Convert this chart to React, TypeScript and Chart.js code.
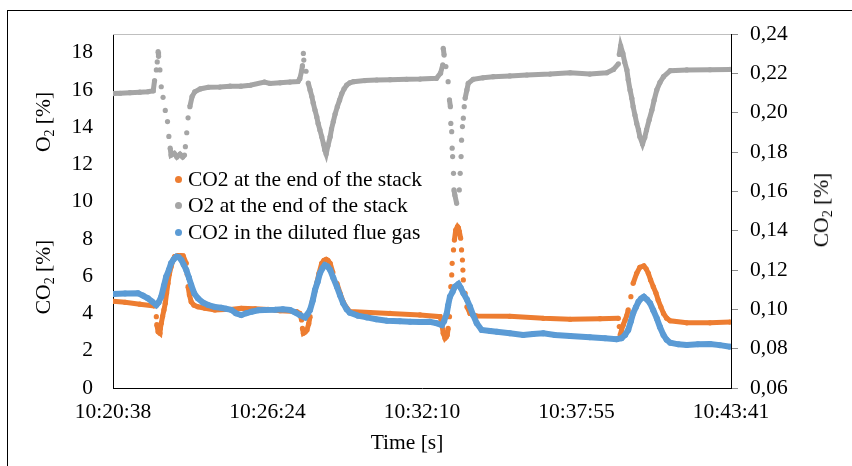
import React, { useEffect, useRef } from 'react';
import { Chart, registerables } from 'chart.js';

Chart.register(...registerables);

// ---------- data (time in seconds after 10:20:38) ----------
const X_TICK_LABELS = ['10:20:38', '10:26:24', '10:32:10', '10:37:55', '10:43:41'];
const X_MAX_SECONDS = 1383;
const LEFT_TICKS = [0, 2, 4, 6, 8, 10, 12, 14, 16, 18];
const RIGHT_TICKS = [0.06, 0.08, 0.1, 0.12, 0.14, 0.16, 0.18, 0.2, 0.22, 0.24];
const SERIES_NAMES = ['CO2 at the end of the stack', 'O2 at the end of the stack', 'CO2 in the diluted flue gas'];

// O2 at the end of the stack [%] (left axis)
const O2_END_STACK: [number, number][] = [
  [0, 15.8], [16, 15.82], [38, 15.85], [60, 15.88], [78, 15.9], [90, 15.95], [93, 16.5], [97, 17.07], [99, 17.5],
  [101, 18.05], [102, 17.8], [105, 17.07], [108, 16.17], [112, 15.6], [117, 14.9], [122, 14.3], [125, 13.5],
  [128, 12.87], [130, 12.5], [137, 12.6], [143, 12.4], [150, 12.55], [156, 12.4], [160, 12.5], [162, 12.95],
  [165, 13.7], [168, 14.5], [172, 15.1], [177, 15.64], [183, 15.9], [195, 16.05], [213, 16.14], [239, 16.15],
  [262, 16.2], [286, 16.2], [307, 16.25], [339, 16.42], [351, 16.35], [374, 16.38], [396, 16.42], [414, 16.45],
  [418, 16.6], [422, 17.0], [424, 17.3], [426, 17.96], [427, 17.6], [432, 17.0], [437, 16.36], [441, 16.0],
  [445, 15.64], [448, 15.3], [452, 14.92], [456, 14.55], [459, 14.2], [463, 13.85], [467, 13.49], [471, 13.1],
  [474, 12.77], [477, 12.56], [481, 13.0], [486, 13.49], [489, 13.9], [493, 14.3], [497, 14.7], [502, 15.1],
  [507, 15.45], [512, 15.8], [517, 16.05], [523, 16.26], [530, 16.38], [538, 16.44], [564, 16.5], [590, 16.53],
  [620, 16.55], [657, 16.57], [687, 16.58], [724, 16.62], [733, 16.9], [738, 17.34], [739, 18.23], [741, 17.87],
  [745, 17.25], [750, 16.44], [753, 15.46], [755, 15.1], [756, 14.2], [758, 13.76], [759, 12.87], [760, 12.42],
  [762, 11.52], [763, 10.63], [765, 10.36], [769, 9.91], [775, 10.63], [777, 11.52], [779, 12.42], [780, 13.3],
  [782, 14.03], [784, 14.48], [786, 15.1], [788, 15.55], [792, 16.0], [795, 16.35], [806, 16.57], [828, 16.65],
  [851, 16.71], [888, 16.75], [926, 16.8], [978, 16.85], [1023, 16.92], [1067, 16.85], [1105, 16.92], [1120, 17.1],
  [1131, 17.4], [1133, 17.9], [1136, 18.36], [1141, 17.96], [1145, 17.5], [1150, 17.07], [1153, 16.55], [1157, 16.0],
  [1161, 15.55], [1164, 15.1], [1168, 14.65], [1172, 14.2], [1176, 13.85], [1179, 13.49], [1185, 13.1], [1190, 13.45],
  [1194, 13.85], [1200, 14.4], [1206, 14.92], [1211, 15.45], [1217, 16.0], [1224, 16.4], [1232, 16.71], [1247, 17.03],
  [1284, 17.07], [1336, 17.08], [1381, 17.1],
];

// CO2 at the end of the stack [%] (left axis)
const CO2_END_STACK: [number, number][] = [
  [0, 4.65], [27, 4.6], [60, 4.5], [93, 4.4], [97, 3.83], [98, 3.4], [101, 3.02], [105, 2.94], [106, 3.2],
  [108, 3.47], [111, 3.85], [114, 4.19], [117, 4.55], [120, 5.1], [123, 5.62], [126, 6.1], [130, 6.51], [134, 6.85],
  [138, 7.05], [145, 7.1], [152, 7.1], [157, 7.09], [164, 6.69], [166, 6.1], [168, 5.44], [171, 5.0], [175, 4.63],
  [181, 4.45], [190, 4.36], [206, 4.28], [228, 4.19], [262, 4.22], [287, 4.28], [318, 4.25], [347, 4.22],
  [374, 4.15], [411, 4.1], [418, 4.0], [422, 3.65], [424, 3.2], [426, 2.94], [430, 3.0], [434, 3.11], [438, 3.45],
  [441, 3.83], [445, 4.55], [451, 5.1], [456, 5.62], [461, 6.15], [467, 6.69], [472, 6.85], [477, 6.91], [481, 6.85],
  [486, 6.69], [492, 6.2], [501, 5.62], [508, 5.1], [515, 4.63], [523, 4.3], [530, 4.1], [575, 4.05], [620, 4.0],
  [687, 3.92], [732, 3.83], [736, 3.4], [739, 2.94], [743, 2.67], [746, 2.75], [748, 2.85], [750, 3.2], [753, 3.83],
  [754, 4.9], [756, 5.44], [758, 6.07], [759, 6.69], [762, 7.41], [764, 7.94], [767, 8.48], [771, 8.66], [773, 8.6],
  [775, 8.39], [778, 8.04], [780, 7.41], [782, 6.87], [783, 6.33], [784, 5.8], [788, 5.08], [792, 4.36], [799, 4.0],
  [814, 3.86], [888, 3.85], [963, 3.74], [1023, 3.69], [1090, 3.72], [1131, 3.74], [1133, 3.3], [1135, 2.85],
  [1138, 3.11], [1142, 3.4], [1146, 3.65], [1150, 3.9], [1153, 4.19], [1159, 4.9], [1164, 5.62], [1172, 6.16],
  [1179, 6.48], [1188, 6.55], [1193, 6.4], [1198, 6.16], [1203, 5.8], [1209, 5.44], [1215, 5.1], [1220, 4.72],
  [1226, 4.35], [1232, 4.0], [1239, 3.75], [1247, 3.61], [1284, 3.5], [1336, 3.5], [1381, 3.54],
];

// CO2 in the diluted flue gas [%] (right axis)
const CO2_DILUTED: [number, number][] = [
  [0, 0.1078], [27, 0.108], [56, 0.1082], [67, 0.107], [78, 0.1056], [87, 0.104], [97, 0.1022], [102, 0.1035],
  [108, 0.1064], [114, 0.112], [119, 0.1166], [125, 0.12], [130, 0.1234], [136, 0.1255], [142, 0.1268], [147, 0.1265],
  [153, 0.1251], [158, 0.1228], [164, 0.12], [170, 0.116], [175, 0.1124], [182, 0.108], [190, 0.1056], [201, 0.1035],
  [213, 0.1022], [228, 0.1012], [242, 0.1008], [253, 0.1003], [265, 0.0997], [275, 0.098], [287, 0.0971], [298, 0.098],
  [310, 0.0988], [325, 0.0995], [339, 0.0997], [363, 0.0998], [380, 0.1], [396, 0.0997], [407, 0.0985], [418, 0.0971],
  [430, 0.0959], [435, 0.0975], [441, 0.0997], [447, 0.1045], [452, 0.1098], [458, 0.114], [463, 0.1183], [469, 0.121],
  [474, 0.1225], [480, 0.1218], [486, 0.12], [493, 0.116], [501, 0.1115], [508, 0.1072], [515, 0.1031], [523, 0.1],
  [530, 0.0983], [548, 0.0968], [568, 0.0959], [589, 0.095], [613, 0.0942], [642, 0.094], [665, 0.0937], [687, 0.0935],
  [709, 0.0937], [723, 0.093], [736, 0.092], [741, 0.094], [747, 0.098], [750, 0.102], [754, 0.1064], [760, 0.109],
  [765, 0.1115], [773, 0.1129], [778, 0.111], [784, 0.1082], [792, 0.105], [799, 0.1013], [806, 0.097], [814, 0.0929],
  [825, 0.0895], [844, 0.089], [859, 0.0886], [888, 0.0878], [918, 0.0869], [940, 0.0875], [963, 0.0878], [989, 0.087],
  [1023, 0.0864], [1067, 0.0858], [1101, 0.0853], [1127, 0.0848], [1138, 0.0853], [1146, 0.087], [1153, 0.0895],
  [1159, 0.094], [1164, 0.098], [1170, 0.101], [1176, 0.1039], [1182, 0.1055], [1188, 0.1064], [1195, 0.105],
  [1202, 0.1031], [1209, 0.0995], [1217, 0.0954], [1224, 0.091], [1232, 0.0869], [1239, 0.0845], [1247, 0.083],
  [1265, 0.0822], [1284, 0.0819], [1309, 0.0822], [1336, 0.0824], [1358, 0.0818], [1381, 0.081],
];

const COLORS = ['#ED7D31', '#A5A5A5', '#5B9BD5'];
const FONT = '"Liberation Serif", "Times New Roman", serif';
const FONT_SIZE = 21.5;

const toXY = (arr: [number, number][]) => arr.map(([x, y]) => ({ x, y }));

// hide the connecting stroke where samples jump far (rapid changes show as separate dots)
const steep = (ctx: any) => {
  const dx = Math.abs(ctx.p1.x - ctx.p0.x);
  const dy = Math.abs(ctx.p1.y - ctx.p0.y);
  return dy > 10.5 || (dy > 5 && dy > 8 * dx) ? 'rgba(0,0,0,0)' : undefined;
};

const topBorder = {
  id: 'topBorder',
  beforeDatasetsDraw(chart: any) {
    const { ctx, chartArea } = chart;
    ctx.save();
    ctx.strokeStyle = '#bfbfbf';
    ctx.lineWidth = 1;
    ctx.beginPath();
    ctx.moveTo(chartArea.left, Math.round(chartArea.top) + 0.5);
    ctx.lineTo(chartArea.right, Math.round(chartArea.top) + 0.5);
    ctx.stroke();
    ctx.restore();
  },
};

function ChartCanvas() {
  const ref = useRef<HTMLCanvasElement | null>(null);
  useEffect(() => {
    if (!ref.current) return;
    const tickFont = { family: FONT, size: FONT_SIZE };
    const ds = (
      label: string,
      data: [number, number][],
      color: string,
      axis: string,
      order: number,
      w: number,
      r: number,
      dotted: boolean
    ) => ({
      label,
      data: toXY(data),
      yAxisID: axis,
      order,
      borderColor: color,
      backgroundColor: color,
      borderWidth: w,
      pointRadius: r,
      pointBorderWidth: 0,
      pointBackgroundColor: color,
      pointHoverRadius: r,
      tension: 0,
      segment: dotted ? { borderColor: steep } : undefined,
    });
    const chart = new Chart(ref.current, {
      type: 'line',
      data: {
        datasets: [
          ds(SERIES_NAMES[0], CO2_END_STACK, COLORS[0], 'yLeft', 2, 5, 2.6, true),
          ds(SERIES_NAMES[1], O2_END_STACK, COLORS[1], 'yLeft', 3, 5, 2.6, true),
          ds(SERIES_NAMES[2], CO2_DILUTED, COLORS[2], 'yRight', 1, 6, 3, false),
        ],
      },
      options: {
        animation: false,
        responsive: false,
        events: [],
        layout: { padding: { top: 34, left: 0, right: 0, bottom: 0 } },
        plugins: { legend: { display: false }, tooltip: { enabled: false } },
        scales: {
          x: {
            type: 'linear',
            min: 0,
            max: X_MAX_SECONDS,
            grid: { display: false, drawTicks: false },
            border: { display: true, color: '#000', width: 1 },
            ticks: {
              font: tickFont,
              color: '#000',
              padding: 11,
              maxRotation: 0,
              autoSkip: false,
              callback: (_v: any, i: number) => X_TICK_LABELS[i],
            },
            afterBuildTicks: (s: any) => {
              s.ticks = X_TICK_LABELS.map((_, i) => ({ value: (i * X_MAX_SECONDS) / (X_TICK_LABELS.length - 1) }));
            },
            afterFit: (s: any) => {
              s.height = 78;
            },
          },
          yLeft: {
            type: 'linear',
            position: 'left',
            min: 0,
            max: 19,
            grid: { display: false, drawTicks: false },
            border: { display: true, color: '#000', width: 1 },
            ticks: { font: tickFont, color: '#000', padding: 20, callback: (v: any) => String(v) },
            afterBuildTicks: (s: any) => {
              s.ticks = LEFT_TICKS.map((v) => ({ value: v }));
            },
            afterFit: (s: any) => {
              s.width = 113;
            },
          },
          yRight: {
            type: 'linear',
            position: 'right',
            min: 0.06,
            max: 0.24,
            grid: { display: true, drawOnChartArea: false, drawTicks: true, tickLength: 7, color: '#8c8c8c' },
            border: { display: true, color: '#000', width: 1 },
            ticks: {
              font: tickFont,
              color: '#000',
              padding: 12,
              callback: (v: any) => Number(v).toFixed(2).replace('.', ','),
            },
            afterBuildTicks: (s: any) => {
              s.ticks = RIGHT_TICKS.map((v) => ({ value: v }));
            },
            afterFit: (s: any) => {
              s.width = 121;
            },
          },
        },
      },
      plugins: [topBorder],
    } as any);
    return () => chart.destroy();
  }, []);
  return <canvas ref={ref} width={852} height={466} style={{ position: 'absolute', left: 0, top: 0, width: 852, height: 466 }} />;
}

const textStyle: React.CSSProperties = {
  position: 'absolute',
  fontFamily: FONT,
  fontSize: FONT_SIZE,
  lineHeight: '26px',
  color: '#000',
  whiteSpace: 'nowrap',
};
const sub: React.CSSProperties = { fontSize: 14, verticalAlign: '-0.3em', lineHeight: 0 };

function RotTitle({ cx, cy, children }: { cx: number; cy: number; children: React.ReactNode }) {
  return (
    <div style={{ ...textStyle, left: cx, top: cy, transform: 'translate(-50%, -50%) rotate(-90deg)' }}>{children}</div>
  );
}

export default function App() {
  const legendY = [179, 205, 232];
  return (
    <div style={{ position: 'absolute', left: 0, top: 0, width: 852, height: 466, overflow: 'hidden', background: '#fff' }}>
      <div
        style={{
          position: 'absolute',
          left: 7,
          top: 10,
          width: 900,
          height: 500,
          borderLeft: '1px solid #000',
          borderTop: '1px solid #000',
        }}
      />
      <ChartCanvas />
      <RotTitle cx={43} cy={122}>
        O<span style={sub}>2</span> [%]
      </RotTitle>
      <RotTitle cx={43} cy={277}>
        CO<span style={sub}>2</span> [%]
      </RotTitle>
      <RotTitle cx={821} cy={210}>
        CO<span style={sub}>2</span> [%]
      </RotTitle>
      <div style={{ ...textStyle, left: 407, top: 429, transform: 'translateX(-50%)' }}>Time [s]</div>
      {SERIES_NAMES.map((name, i) => (
        <React.Fragment key={name}>
          <div
            style={{
              position: 'absolute',
              left: 178 - 3.5,
              top: legendY[i] - 3.5,
              width: 7,
              height: 7,
              borderRadius: '50%',
              background: COLORS[i],
            }}
          />
          <div style={{ ...textStyle, left: 188, top: legendY[i] - 13 }}>{name}</div>
        </React.Fragment>
      ))}
    </div>
  );
}
